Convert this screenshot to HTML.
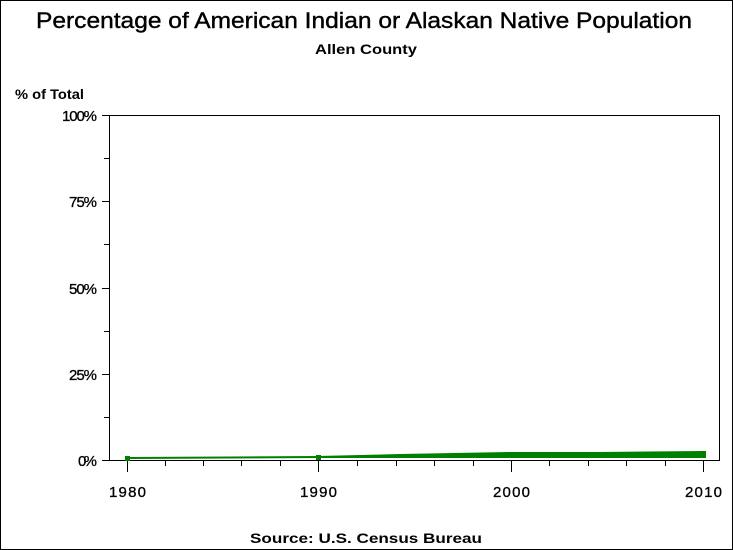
<!DOCTYPE html><html><head><style>body{margin:0;background:#fff}svg{display:block}text{font-family:"Liberation Sans",Arial,sans-serif;fill:#000}</style></head><body>
<svg width="733" height="550" xmlns="http://www.w3.org/2000/svg">
<rect x="0.5" y="0.5" width="732" height="549" fill="#fff" stroke="#000"/>
<text x="36" y="28" font-size="22" textLength="656" lengthAdjust="spacingAndGlyphs" stroke="#000" stroke-width="0.4">Percentage of American Indian or Alaskan Native Population</text>
<text x="315" y="54" font-size="14" font-weight="bold" textLength="102" lengthAdjust="spacingAndGlyphs">Allen County</text>
<text x="15" y="99" font-size="14" font-weight="bold" textLength="69" lengthAdjust="spacingAndGlyphs">% of Total</text>
<text x="250" y="543" font-size="14" font-weight="bold" textLength="232" lengthAdjust="spacingAndGlyphs">Source: U.S. Census Bureau</text>
<rect x="109.5" y="115.5" width="610" height="345" fill="none" stroke="#000"/>
<g stroke="#000">
<line x1="102" y1="115.5" x2="109" y2="115.5"/><line x1="104" y1="158.5" x2="109" y2="158.5"/>
<line x1="102" y1="201.5" x2="109" y2="201.5"/><line x1="104" y1="244.5" x2="109" y2="244.5"/>
<line x1="102" y1="288.5" x2="109" y2="288.5"/><line x1="104" y1="331.5" x2="109" y2="331.5"/>
<line x1="102" y1="374.5" x2="109" y2="374.5"/><line x1="104" y1="417.5" x2="109" y2="417.5"/>
<line x1="102" y1="460.5" x2="109" y2="460.5"/>
<line x1="127.5" y1="461" x2="127.5" y2="472"/><line x1="318.5" y1="461" x2="318.5" y2="472"/>
<line x1="511.5" y1="461" x2="511.5" y2="472"/><line x1="703.5" y1="461" x2="703.5" y2="472"/>
<line x1="165.5" y1="461" x2="165.5" y2="466"/><line x1="203.5" y1="461" x2="203.5" y2="466"/>
<line x1="241.5" y1="461" x2="241.5" y2="466"/><line x1="280.5" y1="461" x2="280.5" y2="466"/>
<line x1="357.5" y1="461" x2="357.5" y2="466"/><line x1="396.5" y1="461" x2="396.5" y2="466"/>
<line x1="434.5" y1="461" x2="434.5" y2="466"/><line x1="473.5" y1="461" x2="473.5" y2="466"/>
<line x1="549.5" y1="461" x2="549.5" y2="466"/><line x1="588.5" y1="461" x2="588.5" y2="466"/>
<line x1="626.5" y1="461" x2="626.5" y2="466"/><line x1="665.5" y1="461" x2="665.5" y2="466"/>
</g>
<g font-size="15" stroke="#000" stroke-width="0.3" lengthAdjust="spacingAndGlyphs">
<text x="62" y="121" textLength="35">100%</text><text x="69" y="207" textLength="28">75%</text><text x="69" y="294" textLength="28">50%</text><text x="69" y="380" textLength="28">25%</text><text x="78" y="466" textLength="19">0%</text>
<text x="109" y="497" textLength="37">1980</text><text x="300" y="497" textLength="37">1990</text><text x="493" y="497" textLength="37">2000</text><text x="685" y="497" textLength="37">2010</text>
</g>
<polygon points="127,457 318,456 400,454 511,452 600,452 703,451 703,458 600,458 511,458 400,458 318,458 127,459" fill="#008000"/>
<g fill="#008000"><rect x="125" y="456" width="5" height="5"/><rect x="316" y="455" width="5" height="5"/><rect x="509" y="452" width="5" height="6"/><rect x="701" y="451" width="5" height="7"/></g>
</svg></body></html>
